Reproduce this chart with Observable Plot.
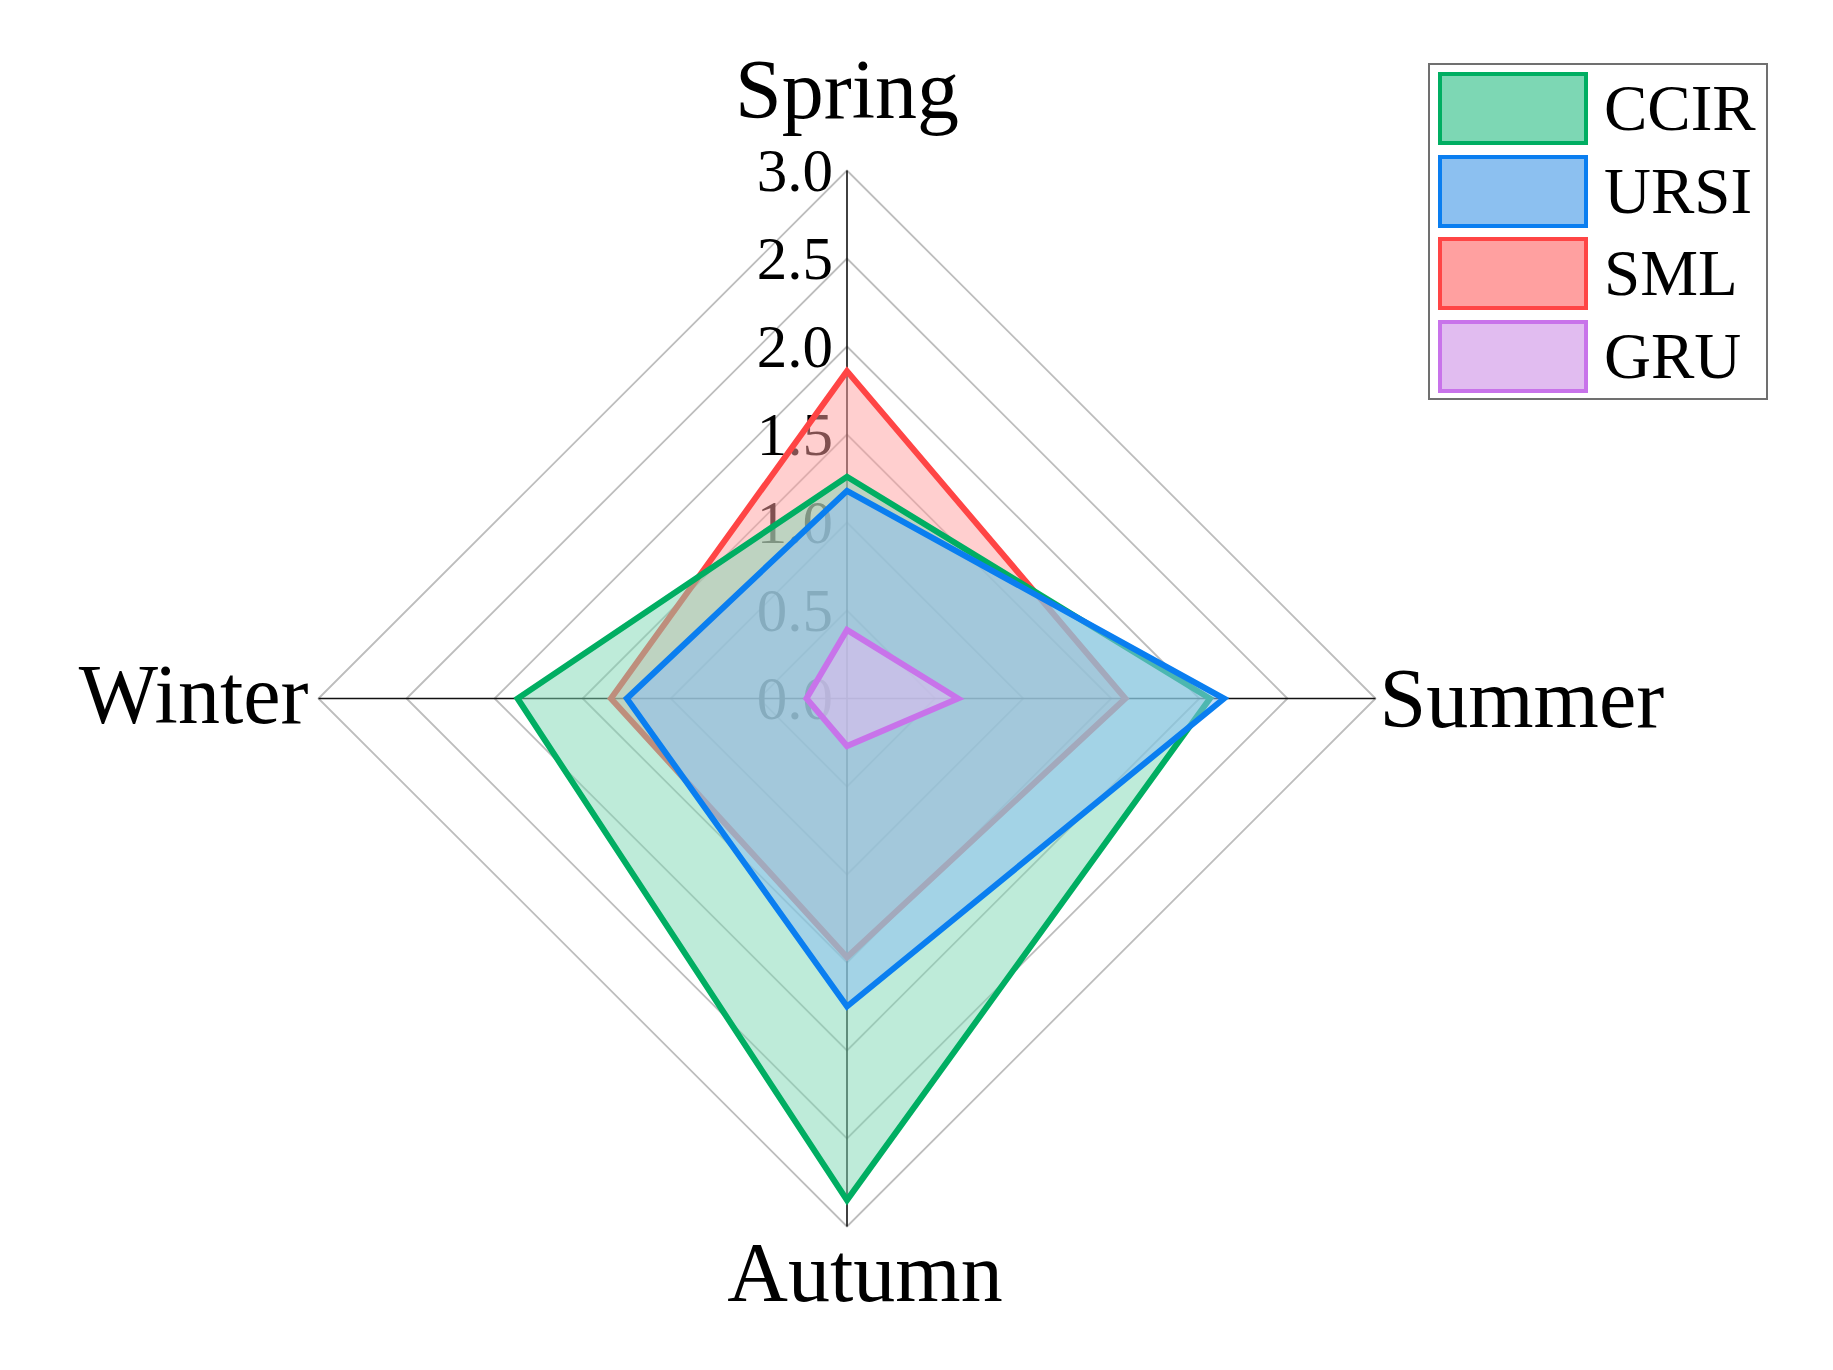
<!DOCTYPE html>
<html>
<head>
<meta charset="utf-8">
<script src="https://cdn.jsdelivr.net/npm/d3@7"></script>
<script src="https://cdn.jsdelivr.net/npm/@observablehq/plot@0.6"></script>
<style>
  html, body { margin: 0; padding: 0; background: #fff; }
  #wrap { position: relative; width: 1833px; height: 1370px; font-family: "Liberation Serif", "Times New Roman", serif; }
  #legend { position: absolute; left: 1428px; top: 63px; width: 336px; height: 333px; border: 2.5px solid #707070; box-sizing: content-box; }
  .item { position: absolute; left: 8px; height: 73px; display: flex; align-items: center; }
  .sw { width: 142px; height: 65px; border: 4px solid; margin-right: 16px; }
  .lab { font-size: 65px; line-height: 1; color: #000; }
</style>
</head>
<body>
<div id="wrap">
  <div id="chart"></div>
  <div id="legend"></div>
</div>
<script>
// ---- data ----
const categories = ["Spring", "Summer", "Autumn", "Winter"];
const seriesNames = ["CCIR", "URSI", "SML", "GRU"];
const ccirValues = [1.26, 2.06, 2.85, 1.87];
const ursiValues = [1.18, 2.14, 1.75, 1.25];
const smlValues  = [1.86, 1.58, 1.47, 1.34];
const gruValues  = [0.39, 0.63, 0.27, 0.23];
const tickValues = [0, 0.5, 1, 1.5, 2, 2.5, 3];
const tickLabels = ["0.0", "0.5", "1.0", "1.5", "2.0", "2.5", "3.0"];

// ---- styles ----
const strokeColors = {CCIR: "#00ae62", URSI: "#0a7ef0", SML: "#ff4545", GRU: "#c873ea"};
const fillColors   = {CCIR: "rgb(125,215,180)", URSI: "rgb(140,192,240)", SML: "rgb(255,160,160)", GRU: "rgb(225,188,240)"};
const fillOpacity  = {CCIR: 0.5, URSI: 0.55, SML: 0.5, GRU: 0.55};
const drawOrder = ["SML", "CCIR", "URSI", "GRU"];
const valuesBySeries = {CCIR: ccirValues, URSI: ursiValues, SML: smlValues, GRU: gruValues};

const angle = i => i * Math.PI / 2;
const px = (r, i) => r * Math.sin(angle(i));
const py = (r, i) => r * Math.cos(angle(i));

const maxR = d3.max(tickValues);

// grid rows
const gridRows = [];
tickValues.filter(t => t > 0).forEach(t => categories.forEach((c, i) => gridRows.push({t, i})));

const marks = [];
marks.push(Plot.line(gridRows, {x: d => px(d.t, d.i), y: d => py(d.t, d.i), z: "t", curve: "linear-closed", stroke: "#bdbdbd", strokeWidth: 1.8}));
marks.push(Plot.link(categories, {x1: 0, y1: 0, x2: (d, i) => px(maxR, i), y2: (d, i) => py(maxR, i), stroke: "#111", strokeWidth: 1.6}));
marks.push(Plot.text(tickValues, {x: 0, y: d => d, text: (d, i) => tickLabels[i], textAnchor: "end", dx: -14, dy: 1, fontSize: 61, fill: "#000", fontFamily: "Liberation Serif"}));

for (const s of drawOrder) {
  const rows = valuesBySeries[s].map((v, i) => ({series: s, v, i}));
  marks.push(Plot.line(rows, {
    x: d => px(d.v, d.i), y: d => py(d.v, d.i),
    curve: "linear-closed",
    stroke: strokeColors[s], strokeWidth: 6,
    fill: fillColors[s], fillOpacity: fillOpacity[s],
    strokeLinejoin: "miter", strokeMiterlimit: 10
  }));
}

// category labels
const labelOpts = [
  {r: 3.3, textAnchor: "middle", dx: 0, dy: 0},
  {r: 3.0, textAnchor: "start", dx: 4, dy: 2},
  {r: 3.0, textAnchor: "middle", dx: 18, dy: 48},
  {r: 3.0, textAnchor: "end", dx: -10, dy: -2}
];
categories.forEach((c, i) => {
  const o = labelOpts[i];
  marks.push(Plot.text([c], {x: px(o.r, i), y: py(o.r, i), text: d => d, textAnchor: o.textAnchor, dx: o.dx, dy: o.dy, fontSize: 84, fill: "#000", fontFamily: "Liberation Serif", lineAnchor: i === 0 ? "bottom" : "middle"}));
});

const chart = Plot.plot({
  width: 1833,
  height: 1370,
  marginLeft: 318,
  marginRight: 458,
  marginTop: 170,
  marginBottom: 144,
  x: {domain: [-3, 3], axis: null},
  y: {domain: [-3, 3], axis: null},
  style: {background: "#fff", overflow: "visible"},
  marks
});
document.getElementById("chart").appendChild(chart);

// legend
const legend = document.getElementById("legend");
seriesNames.forEach((s, k) => {
  const item = document.createElement("div");
  item.className = "item";
  item.style.top = (7 + k * 82.5) + "px";
  const sw = document.createElement("div");
  sw.className = "sw";
  sw.style.borderColor = strokeColors[s];
  sw.style.background = fillColors[s];
  const lab = document.createElement("div");
  lab.className = "lab";
  lab.textContent = s;
  item.appendChild(sw);
  item.appendChild(lab);
  legend.appendChild(item);
});
</script>
</body>
</html>
